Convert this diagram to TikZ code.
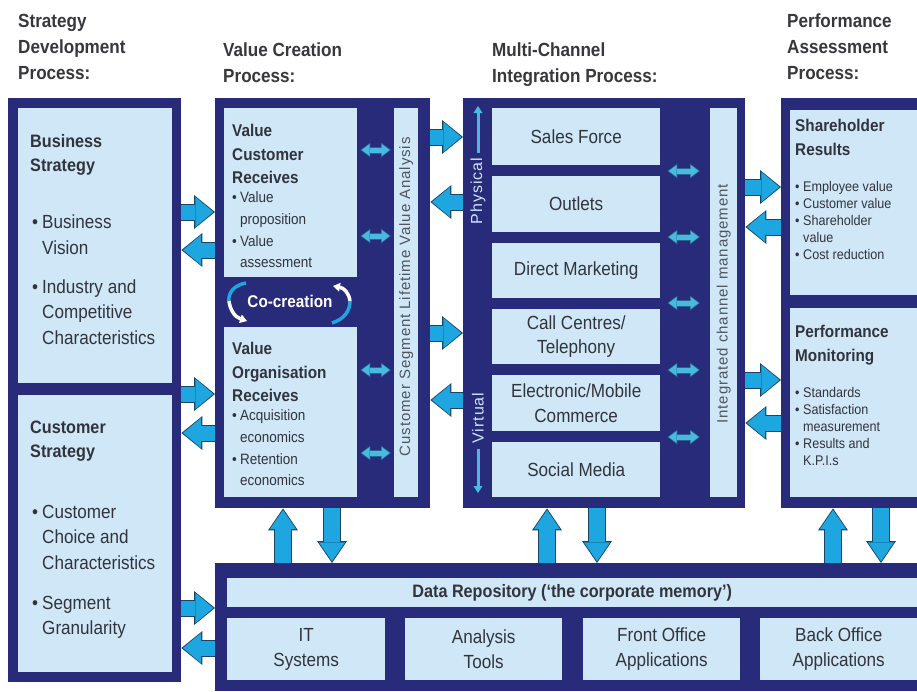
\documentclass[tikz,border=0pt]{standalone}
\usepackage{fontspec}
\setmainfont{Liberation Sans}[FakeStretch=0.9]
\newfontfamily\widefont{Liberation Sans}[LetterSpace=6]
\usetikzlibrary{arrows.meta}
\definecolor{navy}{RGB}{40,42,122}
\definecolor{lightb}{RGB}{207,231,247}
\definecolor{txt}{RGB}{50,52,60}
\definecolor{hdrc}{RGB}{55,55,60}
\definecolor{afill}{RGB}{30,166,224}
\definecolor{aedge}{RGB}{26,68,100}
\definecolor{sfill}{RGB}{72,186,226}
\definecolor{sedge}{RGB}{40,100,140}
\definecolor{rottext}{RGB}{80,85,95}
\definecolor{paletext}{RGB}{205,230,247}
\newcommand\bx[7]{\node[#1, minimum width={(#4)-(#2)}, minimum height={(#5)-(#3)}] (#6) at (#2,#3) {#7};}
\newcommand\bul[1][10pt]{\makebox[#1][l]{•}}
\newcommand\ind[1][10pt]{\hspace*{#1}}
\begin{document}
\begin{tikzpicture}[x=1pt,y=-1pt,
  darkbox/.style={fill=navy, inner sep=0pt, anchor=north west},
  lightbox/.style={fill=lightb, inner sep=0pt, anchor=north west},
  chan/.style={fill=lightb, inner sep=0pt, anchor=north west, text=txt, align=center, font=\fontsize{19}{24.5}\selectfont},
  hdr/.style={anchor=north west, inner sep=0pt, align=left, text=hdrc, font=\bfseries\fontsize{19}{26}\selectfont},
  ttl/.style={anchor=north west, inner sep=0pt, align=left, text=txt, font=\bfseries\fontsize{17}{23.5}\selectfont},
  bigttl/.style={anchor=north west, inner sep=0pt, align=left, text=txt, font=\bfseries\fontsize{18}{24}\selectfont},
  bigbul/.style={anchor=north west, inner sep=0pt, align=left, text=txt, font=\fontsize{19}{25.5}\selectfont},
  midbul/.style={anchor=north west, inner sep=0pt, align=left, text=txt, font=\fontsize{15}{21.7}\selectfont},
  smallbul/.style={anchor=north west, inner sep=0pt, align=left, text=txt, font=\fontsize{14}{17}\selectfont},
  rotlab/.style={rotate=90, inner sep=0pt, text=rottext, font=\widefont\fontsize{15}{15}\selectfont},
  pale/.style={rotate=90, inner sep=0pt, text=paletext, font=\widefont\fontsize{16}{16}\selectfont},
  bigA/.style={line width=15pt, draw=afill, shorten >=1.6pt,
    arrows={-Triangle[length=18pt,width=30pt,line width=0pt]},
    preaction={draw=aedge, line width=17pt, shorten >=0pt,
      arrows={-Triangle[length=21pt,width=34pt,line width=0pt]}}},
  vertA/.style={line width=16pt, draw=afill, shorten >=1.6pt,
    arrows={-Triangle[length=19pt,width=26pt,line width=0pt]},
    preaction={draw=aedge, line width=18pt, shorten >=0pt,
      arrows={-Triangle[length=22pt,width=30pt,line width=0pt]}}},
  smallA/.style n args={2}{line width=5pt, draw=sfill,
    shorten <=#1pt+1.3pt, shorten >=#2pt+1.3pt,
    arrows={Triangle[length=8pt,width=12pt,line width=0pt]-Triangle[length=8pt,width=12pt,line width=0pt]},
    preaction={draw=sedge, line width=7pt, shorten <=#1pt, shorten >=#2pt,
      arrows={Triangle[length=10pt,width=15pt,line width=0pt]-Triangle[length=10pt,width=15pt,line width=0pt]}}},
  thinA/.style={line width=3pt, draw=sfill, arrows={-Triangle[length=7pt,width=9pt,line width=0pt]}},
  cocyan/.style={line width=3.5pt, draw=afill},
  cowhite/.style={line width=3.5pt, draw=white, arrows={-Triangle[length=7pt,width=9pt,line width=0pt]}}
]
\useasboundingbox (0,0) rectangle (917,691);
\fill[white] (0,0) rectangle (917,691);

% headers
\node[hdr] (h1) at (18,14) {Strategy\\Development\\Process:};
\node[hdr] (h2) at (223,42.5) {Value Creation\\Process:};
\node[hdr] (h3) at (492,42.5) {Multi-Channel\\Integration Process:};
\node[hdr] (h4) at (787,14) {Performance\\Assessment\\Process:};

% strategy development column
\bx{darkbox}{8}{98}{181}{682}{L}{}
\bx{lightbox}{18}{108}{172}{383}{L1}{}
\bx{lightbox}{18}{395}{172}{672}{L2}{}
\node[bigttl] (t1) at (30,134) {Business\\Strategy};
\node[bigbul] (b1) at (32,215) {\bul Business\\\ind Vision\\[13.5pt]\bul Industry and\\\ind Competitive\\\ind Characteristics};
\node[bigttl] (t2) at (30,420.5) {Customer\\Strategy};
\node[bigbul] (b2) at (32,505) {\bul Customer\\\ind Choice and\\\ind Characteristics\\[14.5pt]\bul Segment\\\ind Granularity};

% value creation column
\bx{darkbox}{215}{98}{430}{508}{V}{}
\bx{lightbox}{224}{108}{357}{277}{V1}{}
\bx{lightbox}{224}{327}{357}{497}{V2}{}
\bx{lightbox}{394}{108}{418}{497}{VS}{}
\node[ttl] (t3) at (232,124) {Value\\Customer\\Receives};
\node[midbul] (b3) at (232,191.6) {\bul[8pt]Value\\\ind[8pt]proposition\\\bul[8pt]Value\\\ind[8pt]assessment};
\node[ttl] (t4) at (232,342) {Value\\Organisation\\Receives};
\node[midbul] (b4) at (232,409.6) {\bul[8pt]Acquisition\\\ind[8pt]economics\\\bul[8pt]Retention\\\ind[8pt]economics};
\node[rotlab] (vsl) at ([yshift=6pt]VS.center) {Customer Segment Lifetime Value Analysis};
\node[text=white, inner sep=0pt, font=\bfseries\fontsize{17}{17}\selectfont] (cc) at (290,301) {Co-creation};
\draw[cocyan] (246,283) .. controls (234,285) and (228,293) .. (229,301);
\draw[cowhite] (229,301) .. controls (230,310) and (235,317) .. (247,321);
\draw[cowhite] (350,301) .. controls (349,293) and (344,288) .. (333,286);
\draw[cocyan] (332,323) .. controls (345,319) and (350,310) .. (350,301);

% multi-channel column
\bx{darkbox}{463}{98}{745}{508}{M}{}
\bx{chan}{492}{108}{660}{165}{SF}{Sales Force}
\bx{chan}{492}{176}{660}{232}{OU}{Outlets}
\bx{chan}{492}{243}{660}{298}{DM}{Direct Marketing}
\bx{chan}{492}{309}{660}{364}{CC}{Call Centres/\\Telephony}
\bx{chan}{492}{375}{660}{431}{EC}{Electronic/Mobile\\Commerce}
\bx{chan}{492}{442}{660}{497}{SM}{Social Media}
\bx{lightbox}{710}{108}{737}{497}{MS}{}
\node[rotlab] (msl) at ([yshift=-1pt]MS.center) {Integrated channel management};
\node[pale] (phys) at (478,191) {Physical};
\node[pale] (virt) at (478,418) {Virtual};
\coordinate (physTop) at (478,106);
\coordinate (virtBot) at (478,493);
\draw[thinA] ([yshift=5pt]phys.east) -- (physTop);
\draw[thinA] ([yshift=-5pt]virt.west) -- (virtBot);

% performance column
\bx{darkbox}{781}{98}{917}{508}{P}{}
\bx{lightbox}{790}{110}{917}{295}{P1}{}
\bx{lightbox}{790}{308}{917}{497}{P2}{}
\node[ttl] (t5) at (795,119) {Shareholder\\Results};
\node[smallbul] (b5) at (795,181) {\bul[8pt]Employee value\\\bul[8pt]Customer value\\\bul[8pt]Shareholder\\\ind[8pt]value\\\bul[8pt]Cost reduction};
\node[ttl] (t6) at (795,325) {Performance\\Monitoring};
\node[smallbul] (b6) at (795,387) {\bul[8pt]Standards\\\bul[8pt]Satisfaction\\\ind[8pt]measurement\\\bul[8pt]Results and\\\ind[8pt]K.P.I.s};

% data repository
\bx{darkbox}{215}{563}{917}{691}{D}{}
\bx{chan}{227}{578}{917}{607}{DR}{\bfseries\fontsize{18}{18}\selectfont Data Repository (‘the corporate memory’)}
\bx{chan}{227}{618}{385}{680}{IT}{IT\\Systems}
\bx{chan}{405}{618}{562}{680}{AT}{Analysis\\Tools}
\bx{chan}{583}{618}{740}{680}{FO}{Front Office\\Applications}
\bx{chan}{760}{618}{917}{680}{BO}{Back Office\\Applications}

% big horizontal arrows
\draw[bigA] (L.east |- 0,212) -- (V.west |- 0,212);
\draw[bigA] (V.west |- 0,250) -- (L.east |- 0,250);
\draw[bigA] (L.east |- 0,394) -- (V.west |- 0,394);
\draw[bigA] (V.west |- 0,433) -- (L.east |- 0,433);
\draw[bigA] (L.east |- 0,608) -- (D.west |- 0,608);
\draw[bigA] (D.west |- 0,648) -- (L.east |- 0,648);
\draw[bigA] (V.east |- 0,137) -- (M.west |- 0,137);
\draw[bigA] (M.west |- 0,202) -- (V.east |- 0,202);
\draw[bigA] (V.east |- 0,333) -- (M.west |- 0,333);
\draw[bigA] (M.west |- 0,400) -- (V.east |- 0,400);
\draw[bigA] (M.east |- 0,187) -- (P.west |- 0,187);
\draw[bigA] (P.west |- 0,227) -- (M.east |- 0,227);
\draw[bigA] (M.east |- 0,380) -- (P.west |- 0,380);
\draw[bigA] (P.west |- 0,423) -- (M.east |- 0,423);

% vertical arrows
\draw[vertA] (D.north -| 283,0) -- (V.south -| 283,0);
\draw[vertA] (V.south -| 332,0) -- (D.north -| 332,0);
\draw[vertA] (D.north -| 547,0) -- (M.south -| 547,0);
\draw[vertA] (M.south -| 597,0) -- (D.north -| 597,0);
\draw[vertA] (D.north -| 833,0) -- (P.south -| 833,0);
\draw[vertA] (P.south -| 881,0) -- (D.north -| 881,0);

% small double arrows
\draw[smallA={3}{3}] (V1.east |- 0,150) -- (VS.west |- 0,150);
\draw[smallA={3}{3}] (V1.east |- 0,236) -- (VS.west |- 0,236);
\draw[smallA={3}{3}] (V2.east |- 0,370) -- (VS.west |- 0,370);
\draw[smallA={3}{3}] (V2.east |- 0,453) -- (VS.west |- 0,453);
\draw[smallA={7}{10}] (SF.east |- 0,171) -- (MS.west |- 0,171);
\draw[smallA={7}{10}] (OU.east |- 0,237) -- (MS.west |- 0,237);
\draw[smallA={7}{10}] (DM.east |- 0,303) -- (MS.west |- 0,303);
\draw[smallA={7}{10}] (CC.east |- 0,370) -- (MS.west |- 0,370);
\draw[smallA={7}{10}] (EC.east |- 0,437) -- (MS.west |- 0,437);
\end{tikzpicture}
\end{document}
